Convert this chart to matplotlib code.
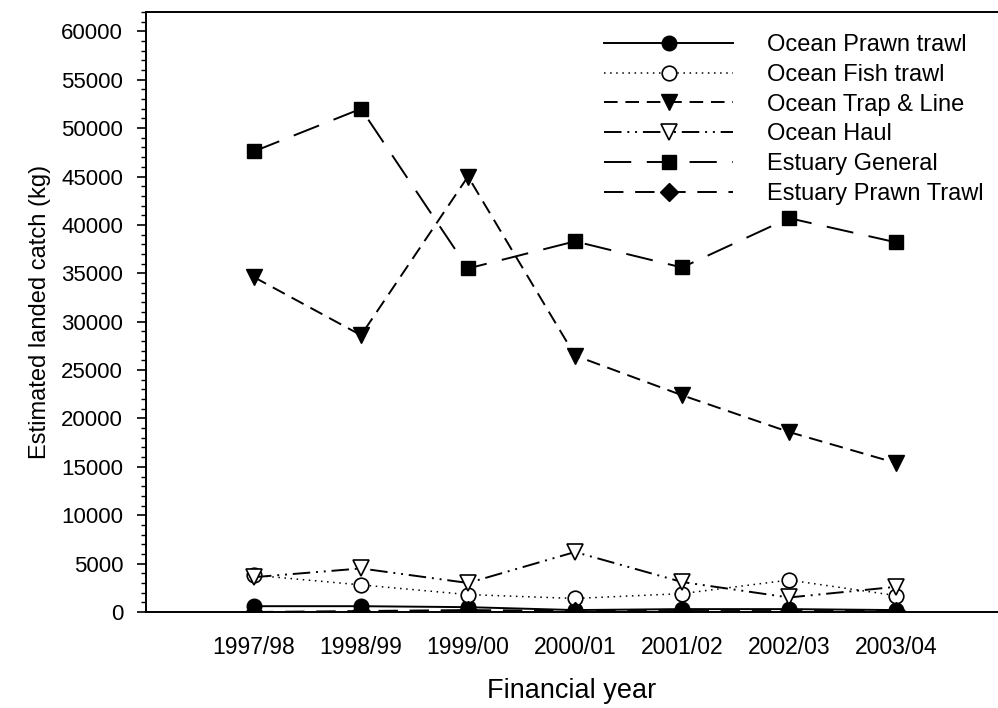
import matplotlib
matplotlib.use("Agg")
import matplotlib.pyplot as plt
from matplotlib.ticker import MultipleLocator

years = ["1997/98", "1998/99", "1999/00", "2000/01", "2001/02", "2002/03", "2003/04"]
ocean_prawn = [600, 600, 500, 200, 300, 300, 200]
ocean_fish = [3800, 2800, 1800, 1400, 1900, 3300, 1700]
ocean_trap = [34600, 28600, 45000, 26500, 22400, 18600, 15400]
ocean_haul = [3600, 4500, 3000, 6200, 3100, 1500, 2600]
estuary_general = [47600, 52000, 35500, 38300, 35600, 40700, 38200]
estuary_prawn = [0, 100, 200, 100, 100, 100, 100]

plt.rcParams['font.family'] = ['Liberation Sans', 'DejaVu Sans']
fig = plt.figure(figsize=(9.98, 7.08), dpi=100)
ax = fig.add_axes([146/998, 1-612/708, 1-146/998, 600/708])
x = list(range(len(years)))

lw = 1.4
ax.plot(x, ocean_prawn, '-', color='black', lw=lw, marker='o', ms=10.5, mfc='black', mec='black', label='Ocean Prawn trawl')
ax.plot(x, ocean_fish, color='black', lw=1.1, ls=(0, (1, 3)), marker='o', ms=10.5, mfc='white', mec='black', mew=1.2, label='Ocean Fish trawl')
ax.plot(x, ocean_trap, color='black', lw=lw, ls=(0, (7, 4)), marker='v', ms=11, mfc='black', mec='black', label='Ocean Trap & Line')
ax.plot(x, ocean_haul, color='black', lw=lw, ls=(0, (9, 3, 1, 3, 1, 3)), marker='v', ms=11, mfc='white', mec='black', mew=1.2, label='Ocean Haul')
ax.plot(x, estuary_general, color='black', lw=lw, ls=(0, (14, 8)), marker='s', ms=10, mfc='black', mec='black', label='Estuary General')
ax.plot(x, estuary_prawn, color='black', lw=lw, ls=(0, (10, 6)), marker='D', ms=9, mfc='black', mec='black', label='Estuary Prawn Trawl')

ax.set_xlim(-108/107, (998 - 254) / 107)
ax.set_ylim(0, 62000)
ax.set_xticks(x)
ax.set_xticklabels(years, fontsize=16.5)
ax.tick_params(axis='x', length=0, pad=17)
ax.yaxis.set_minor_locator(MultipleLocator(1000))
ax.set_yticks(range(0, 60001, 5000))
ax.tick_params(axis='y', which='major', length=6.5, direction='out', labelsize=16, width=1.2, pad=10)
ax.tick_params(axis='y', which='minor', length=3.5, direction='out', width=1)
ax.spines['right'].set_visible(False)
for s in ['left', 'top', 'bottom']:
    ax.spines[s].set_linewidth(1.4)

ax.set_xlabel('Financial year', fontsize=19.5, labelpad=14)
ax.set_ylabel('Estimated landed catch (kg)', fontsize=17, labelpad=7)

fs = 17
leg = fig.legend(loc='upper left', bbox_to_anchor=(604/998, 1-34/708), frameon=False,
                 fontsize=fs, handlelength=129/(fs*100/72), handletextpad=34/(fs*100/72),
                 labelspacing=0.33, borderpad=0, borderaxespad=0)

fig.savefig('out.png', dpi=100)
